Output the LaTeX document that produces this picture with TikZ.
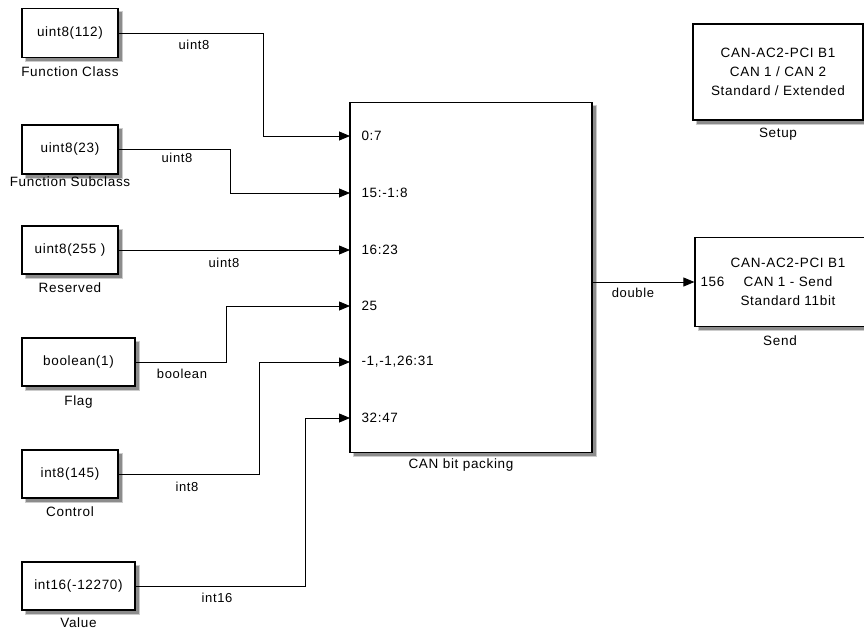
\documentclass[tikz,border=0pt]{standalone}
\usepackage{fontspec}
\setmainfont{Liberation Sans}[LetterSpace=5.0]
\usepackage{tikz}
\usetikzlibrary{arrows.meta}
\tikzset{
  blk/.style={draw, fill=white, line width=1.2pt, inner sep=0pt},
  blkshadow/.style={fill=black!45, draw=black!20, line width=1pt},
  wire/.style={line width=0.8pt, -{Triangle[length=11pt,width=9pt]}},
  lbl/.style={font=\fontsize{13.5}{16}\selectfont},
  wlbl/.style={font=\fontsize{13}{16}\selectfont},
}

\begin{document}
\begin{tikzpicture}[x=1pt, y=-1pt, font=\fontsize{13.5}{19}\selectfont]
      \useasboundingbox (0,0) rectangle (864,632);
      % shadows
      \foreach \sx/\sy/\ex/\ey in {22/8.5/122/61.5, 22/125/122/178, 22/226/122/278,
          22/338/139/390, 22/450/122/502, 22/562/139/614,
          350/102.5/596/456.5, 693/24/867/124, 695/237.5/899/330.5}
        \path[blkshadow] (\sx+3,\sy+3) rectangle (\ex,\ey);
      % sources
      \node[blk, minimum width=96pt, minimum height=49pt] (fc) at (70,33) {uint8(112)};
      \node[lbl] at (70,72) {Function Class};
      \node[blk, minimum width=96pt, minimum height=49pt] (fs) at (70,149.5) {uint8(23)};
      \node[lbl] at (70,182) {Function Subclass};
      \node[blk, minimum width=96pt, minimum height=48pt] (res) at (70,250) {uint8(255 )};
      \node[lbl] at (70,288) {Reserved};
      \node[blk, minimum width=113pt, minimum height=48pt] (flag) at (78.5,362) {boolean(1)};
      \node[lbl] at (78.5,402) {Flag};
      \node[blk, minimum width=96pt, minimum height=48pt] (ctrl) at (70,474) {int8(145)};
      \node[lbl] at (70,512) {Control};
      \node[blk, minimum width=113pt, minimum height=48pt] (val) at (78.5,586) {int16(-12270)};
      \node[lbl] at (78.5,623) {Value};
      % packing block
      \node[blk, minimum width=242pt, minimum height=350pt] (pack) at (471,277.5) {};
      \node[lbl] at (461,465) {CAN bit packing};
      \coordinate (in1) at (350,136);
      \coordinate (in2) at (350,193);
      \coordinate (in3) at (350,250);
      \coordinate (in4) at (350,306);
      \coordinate (in5) at (350,362);
      \coordinate (in6) at (350,418);
      \node[lbl, anchor=west] at (358,136) {0:7};
      \node[lbl, anchor=west] at (358,193) {15:-1:8};
      \node[lbl, anchor=west] at (358,250) {16:23};
      \node[lbl, anchor=west] at (358,306) {25};
      \node[lbl, anchor=west] at (358,362) {-1,-1,26:31};
      \node[lbl, anchor=west] at (358,418) {32:47};
      % CAN blocks
      \node[blk, minimum width=170pt, minimum height=96pt, align=center] (setup) at (778,72)
        {CAN-AC2-PCI B1\\CAN 1 / CAN 2\\Standard / Extended};
      \node[lbl] at (778,134) {Setup};
      \node[blk, minimum width=200pt, minimum height=89pt] (send) at (795,282) {};
      \node[align=center] at (788,282) {CAN-AC2-PCI B1\\CAN 1 - Send\\Standard 11bit};
      \node[lbl, anchor=west] at (697,282) {156};
      \node[lbl] at (780,341) {Send};
      % signals
      \draw[wire] (fc.east) -- ++(145,0) |- (in1);
      \node[wlbl] at (194,45) {uint8};
      \draw[wire] (fs.east) -- ++(112,0) |- (in2);
      \node[wlbl] at (177,158) {uint8};
      \draw[wire] (res.east) -- (in3);
      \node[wlbl] at (224,263) {uint8};
      \draw[wire] (flag.east) -- ++(91,0) |- (in4);
      \node[wlbl] at (182,374) {boolean};
      \draw[wire] (ctrl.east) -- ++(141,0) |- (in5);
      \node[wlbl] at (187,487) {int8};
      \draw[wire] (val.east) -- ++(170,0) |- (in6);
      \node[wlbl] at (217,598) {int16};
      \draw[wire] (pack.east |- send.west) -- (send.west);
      \node[wlbl] at (633,293) {double};
    \end{tikzpicture}
\end{document}
